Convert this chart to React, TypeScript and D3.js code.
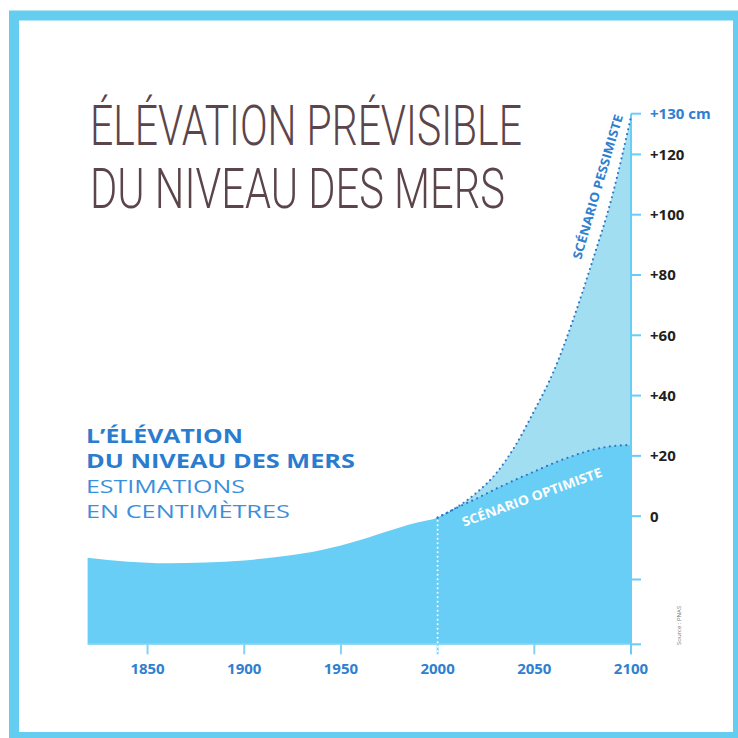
import { useEffect, useRef } from "react";
import * as d3 from "d3";

// historical sea level (cm, relative to 2000)
const histYears = [1819, 1840, 1860, 1880, 1900, 1920, 1940, 1960, 1970, 1980, 1990, 2000];
const histLevel = [-13.8, -15.1, -15.6, -15.4, -14.7, -13.3, -11.2, -7.9, -5.8, -3.8, -2.0, -0.5];

// projections
const futureYears = [2000, 2010, 2020, 2030, 2040, 2050, 2060, 2070, 2080, 2090, 2100];
const optimistic = [-0.5, 2.8, 5.8, 9.0, 12.0, 14.8, 17.6, 20.0, 22.0, 23.2, 23.6];
const pessimistic = [-0.5, 3.0, 7.7, 14.0, 23.2, 35.0, 48.0, 65.0, 84.5, 105.5, 132.5];

// axes
const xTicks = [1850, 1900, 1950, 2000, 2050, 2100];
const yTickValues = [-42.5, -21, 0, 20, 40, 60, 80, 100, 120, 133.5];
const yTickLabels = ["", "", "0", "+20", "+40", "+60", "+80", "+100", "+120", "+130 cm"];

const FONT = "'Open Sans', 'Noto Sans', sans-serif";
const BLUE_TXT = "#2f80d0";
const FILL = "#68cef5";
const FILL_LIGHT = "#a2def1";
const DOTS = "#2d78c4";

// squeeze a text horizontally so it spans `width` px from (x, y)
function fitText(
  sel: d3.Selection<SVGTextElement, unknown, null, undefined>,
  x: number,
  y: number,
  width: number,
) {
  const w = sel.node()!.getComputedTextLength() || width;
  sel.attr("transform", `translate(${x},${y}) scale(${width / w},1)`);
}

export default function App() {
  const ref = useRef<SVGSVGElement>(null);

  useEffect(() => {
    if (!ref.current) return;
    const svg = d3.select(ref.current);
    svg.selectAll("*").remove();

    const x = d3.scaleLinear().domain([1819, 2100]).range([87.6, 631]);
    const y = d3.scaleLinear().domain([-42.5, 133.5]).range([644.3, 113.7]);
    const y0 = y(-42.5);

    const main = [
      ...histYears.map((yr, i) => [yr, histLevel[i]] as [number, number]),
      ...futureYears.slice(1).map((yr, i) => [yr, optimistic[i + 1]] as [number, number]),
    ];
    const opt = futureYears.map((yr, i) => [yr, optimistic[i]] as [number, number]);
    const pess = futureYears.map((yr, i) => [yr, pessimistic[i]] as [number, number]);

    // frame
    svg.append("rect")
      .attr("x", 14).attr("y", 15.5).attr("width", 724).attr("height", 721.5)
      .attr("fill", "#fff").attr("stroke", "#64cdf0").attr("stroke-width", 10);

    // title
    const title = svg.append("g")
      .attr("font-family", "Roboto, 'Open Sans', sans-serif")
      .attr("font-weight", 300)
      .attr("font-size", 56).attr("fill", "#5b454b");
    fitText(title.append("text").text("ÉLÉVATION PRÉVISIBLE"), 90, 145, 432);
    fitText(title.append("text").text("DU NIVEAU DES MERS"), 90, 208, 415);

    // subtitle
    const sub = svg.append("g").attr("font-family", FONT).attr("font-size", 19);
    const subLines: [string, number, number, number][] = [
      ["L’ÉLÉVATION", 443.3, 157, 700],
      ["DU NIVEAU DES MERS", 468.3, 269, 700],
      ["ESTIMATIONS", 493.3, 159, 400],
      ["EN CENTIMÈTRES", 518.3, 204, 400],
    ];
    subLines.forEach(([t, yy, len, w]) => {
      const s = sub.append("text")
        .attr("font-weight", w)
        .attr("fill", w === 700 ? "#2a7ccf" : "#3a8fdb")
        .text(t);
      fitText(s, 86, yy, len);
    });

    const area = (d: [number, number][]) =>
      d3.area<[number, number]>()
        .x((p) => x(p[0])).y0(y0).y1((p) => y(p[1]))
        .curve(d3.curveMonotoneX)(d);
    const line = d3.line<[number, number]>()
      .x((p) => x(p[0])).y((p) => y(p[1]))
      .curve(d3.curveMonotoneX);

    svg.append("path").attr("d", area(pess)).attr("fill", FILL_LIGHT);
    svg.append("path").attr("d", area(main)).attr("fill", FILL);

    // x axis
    svg.append("line")
      .attr("x1", x(1819)).attr("x2", x(2100)).attr("y1", y0).attr("y2", y0)
      .attr("stroke", "#93daf6").attr("stroke-width", 1.5);
    svg.append("g").selectAll("line").data(xTicks).join("line")
      .attr("x1", (d) => x(d)).attr("x2", (d) => x(d))
      .attr("y1", y0).attr("y2", y0 + 10)
      .attr("stroke", "#7fd4f6").attr("stroke-width", 2);
    svg.append("g").selectAll("text").data(xTicks).join("text")
      .attr("x", (d) => x(d)).attr("y", 673.5)
      .attr("text-anchor", "middle")
      .attr("font-family", FONT).attr("font-weight", 700).attr("font-size", 15)
      .attr("fill", BLUE_TXT)
      .text((d) => d);

    // white dotted line at 2000
    svg.append("line")
      .attr("x1", x(2000)).attr("x2", x(2000))
      .attr("y1", y(-0.5) + 3).attr("y2", y0 + 10)
      .attr("stroke", "#fff").attr("stroke-width", 2)
      .attr("stroke-linecap", "round").attr("stroke-dasharray", "0 4.5");

    // right axis
    svg.append("line")
      .attr("x1", x(2100)).attr("x2", x(2100))
      .attr("y1", y(133.5)).attr("y2", y0 + 10)
      .attr("stroke", FILL).attr("stroke-width", 2);
    svg.append("g").selectAll("line").data(yTickValues).join("line")
      .attr("x1", x(2100)).attr("x2", x(2100) + 10)
      .attr("y1", (d) => y(d)).attr("y2", (d) => y(d))
      .attr("stroke", FILL).attr("stroke-width", 2);
    const labelled = yTickValues
      .map((v, i) => ({ v, label: yTickLabels[i], top: i === yTickValues.length - 1 }))
      .filter((d) => d.label !== "");
    svg.append("g").selectAll("text").data(labelled).join("text")
      .attr("x", 650).attr("y", (d) => y(d.v)).attr("dy", "0.36em")
      .attr("font-family", FONT).attr("font-weight", 700).attr("font-size", 15)
      .attr("fill", (d) => (d.top ? BLUE_TXT : "#231f20"))
      .text((d) => d.label);

    // dotted scenario lines
    svg.append("path").attr("d", line(pess))
      .attr("fill", "none").attr("stroke", DOTS).attr("stroke-width", 2.2)
      .attr("stroke-linecap", "round").attr("stroke-dasharray", "0 5");
    svg.append("path").attr("d", line(opt))
      .attr("fill", "none").attr("stroke", DOTS).attr("stroke-width", 2.2)
      .attr("stroke-linecap", "round").attr("stroke-dasharray", "0 5.5");

    // scenario labels
    svg.append("text")
      .attr("transform", "translate(602,188) rotate(-73.7)")
      .attr("text-anchor", "middle")
      .attr("font-family", FONT).attr("font-weight", 700).attr("font-size", 12.5)
      .attr("fill", BLUE_TXT)
      .attr("textLength", 150).attr("lengthAdjust", "spacingAndGlyphs")
      .text("SCÉNARIO PESSIMISTE");
    svg.append("text")
      .attr("transform", "translate(533.5,501.5) rotate(-20)")
      .attr("text-anchor", "middle")
      .attr("font-family", FONT).attr("font-weight", 700).attr("font-size", 13)
      .attr("fill", "#fff")
      .attr("textLength", 148).attr("lengthAdjust", "spacingAndGlyphs")
      .text("SCÉNARIO OPTIMISTE");

    // source
    svg.append("text")
      .attr("transform", "translate(681,645) rotate(-90)")
      .attr("font-family", FONT).attr("font-size", 6).attr("fill", "#777")
      .text("Source : PNAS");
  }, []);

  return (
    <svg
      ref={ref}
      width={738}
      height={738}
      style={{ position: "absolute", left: 0, top: 0, display: "block" }}
    />
  );
}
